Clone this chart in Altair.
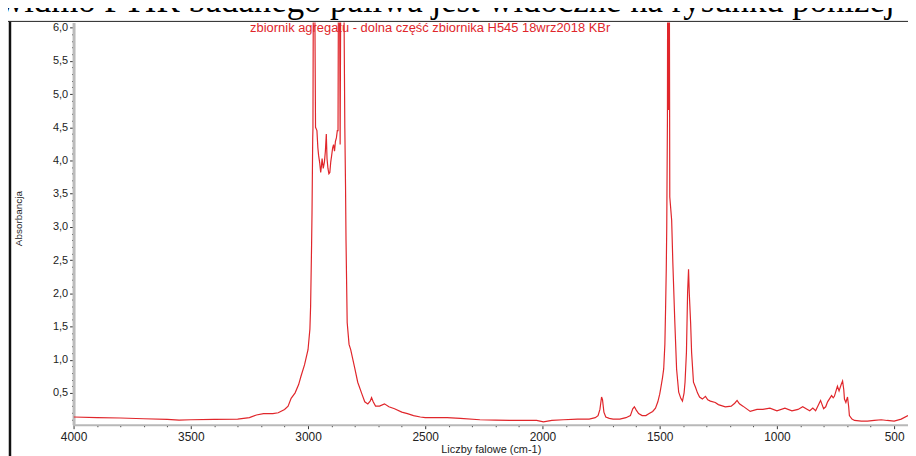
import altair as alt
import pandas as pd

doc_text = "widmo FTIR badanego paliwa jest widoczne na rysunku poniżej"
chart_title = "zbiornik agregatu - dolna część zbiornika H545 18wrz2018 KBr"
x_title = "Liczby falowe (cm-1)"
y_title = "Absorbancja"

wavenumber = [
    4000, 3900, 3800, 3700, 3600, 3550, 3500, 3400, 3300, 3250, 3220, 3190, 3150, 3127,
    3100, 3085, 3072, 3055, 3040, 3030, 3015, 3000, 2992, 2989, 2985, 2983, 2980, 2979,
    2977, 2972, 2968, 2962, 2958, 2955, 2950, 2946, 2943, 2940, 2935, 2930, 2926, 2922,
    2919, 2915, 2911, 2907, 2903, 2899, 2895, 2891, 2887, 2883, 2879, 2875, 2872, 2870,
    2866, 2863, 2860, 2848, 2843, 2840, 2838, 2833, 2825, 2818, 2800, 2788, 2770, 2758,
    2745, 2735, 2729, 2722, 2712, 2695, 2674, 2655, 2631, 2600, 2576, 2550, 2521, 2500,
    2407, 2350, 2267, 2200, 2140, 2060, 2025, 1996, 1960, 1911, 1850, 1801, 1775, 1763,
    1755, 1748, 1744, 1738, 1730, 1715, 1699, 1670, 1644, 1625, 1615, 1608, 1600, 1590,
    1575, 1559, 1545, 1530, 1518, 1508, 1500, 1496, 1488, 1483, 1478, 1475, 1472, 1470,
    1467, 1466, 1463, 1461, 1459, 1457, 1449, 1444, 1436, 1428, 1419, 1410, 1403, 1396,
    1392, 1386, 1381, 1377, 1374, 1368, 1364, 1356, 1347, 1339, 1330, 1318, 1305, 1295,
    1284, 1263, 1250, 1220, 1195, 1180, 1170, 1160, 1145, 1114, 1085, 1060, 1030, 1000,
    966, 936, 910, 890, 870, 860, 847, 835, 814, 801, 792, 784, 767, 760, 755, 742, 735,
    726, 720, 715, 712, 706, 699, 694, 691, 680, 669, 640, 614, 585, 555, 530, 500, 470, 441,
]
absorbance = [
    0.136, 0.126, 0.121, 0.11, 0.1, 0.09, 0.095, 0.1, 0.105, 0.126, 0.167, 0.188, 0.188, 0.2,
    0.25, 0.3, 0.417, 0.5, 0.625, 0.75, 0.92, 1.15, 1.46, 1.8, 2.68, 3.2, 4.34, 4.48,
    7.0, 7.0, 4.5, 4.45, 4.19, 4.08, 3.96, 3.82, 3.91, 4.03, 3.88, 3.98, 4.14, 4.4,
    4.03, 3.88, 3.8, 3.82, 3.98, 4.08, 4.19, 4.24, 4.14, 4.29, 4.34, 4.45, 4.45, 7.0,
    7.0, 4.24, 7.0, 7.0, 4.48, 3.6, 2.81, 1.56, 1.23, 1.15, 0.86, 0.66, 0.48, 0.365,
    0.334, 0.375, 0.427, 0.365, 0.3, 0.3, 0.334, 0.29, 0.26, 0.21, 0.188, 0.157, 0.136, 0.126,
    0.126, 0.116, 0.095, 0.09, 0.084, 0.084, 0.084, 0.064, 0.084, 0.095, 0.105, 0.105, 0.126, 0.157,
    0.25, 0.437, 0.396, 0.21, 0.136, 0.116, 0.105, 0.105, 0.126, 0.157, 0.26, 0.29, 0.24, 0.188,
    0.157, 0.157, 0.188, 0.22, 0.27, 0.365, 0.48, 0.56, 0.73, 0.86, 1.23, 1.76, 2.37, 2.99,
    4.66, 7.0, 4.76, 7.0, 7.0, 3.45, 3.1, 2.46, 1.61, 0.86, 0.51, 0.417, 0.375, 0.5,
    0.66, 1.11, 2.02, 2.36, 2.01, 1.54, 1.11, 0.66, 0.58, 0.5, 0.437, 0.406, 0.448, 0.396,
    0.375, 0.355, 0.323, 0.29, 0.3, 0.344, 0.386, 0.334, 0.3, 0.22, 0.25, 0.25, 0.27, 0.23,
    0.27, 0.23, 0.25, 0.29, 0.25, 0.23, 0.27, 0.23, 0.386, 0.26, 0.29, 0.365, 0.458, 0.427, 0.448, 0.6, 0.53,
    0.625, 0.677, 0.55, 0.406, 0.355, 0.437, 0.29, 0.157, 0.105, 0.084, 0.074, 0.074, 0.084, 0.095, 0.084, 0.074, 0.105, 0.157,
]

x_tick_values = list(range(500, 4001, 100))
y_tick_values = [round(0.1 * k, 1) for k in range(1, 61)]

df = pd.DataFrame({"wn": wavenumber, "A": absorbance, "idx": list(range(len(wavenumber)))})

RED = "#e0262b"
FONT = "Liberation Sans"

x_axis = alt.Axis(
    values=x_tick_values,
    labelExpr="datum.value % 500 == 0 ? format(datum.value, 'd') : ''",
    labelOverlap=False,
    labelFlush=False,
    labelFont=FONT,
    labelFontSize=12,
    labelColor="#222222",
    labelPadding=3,
    tickColor="#333333",
    tickSize={"condition": {"test": "datum.value % 500 == 0", "value": 4}, "value": 2},
    domainColor="#b8b8b8",
    domainWidth=2,
    grid=False,
    title=x_title,
    titleFont=FONT,
    titleFontSize=11,
    titleFontWeight="normal",
    titleColor="#222222",
    titleX=420,
    titleY=30,
    titleBaseline="bottom",
)

y_axis = alt.Axis(
    values=y_tick_values,
    labelExpr="round(datum.value * 10) % 5 == 0 ? replace(format(datum.value, '.1f'), '.', ',') : ''",
    labelOverlap=False,
    labelFlush=False,
    labelFont=FONT,
    labelFontSize=11,
    labelColor="#222222",
    labelPadding=2,
    tickColor="#333333",
    tickSize={"condition": {"test": "round(datum.value * 10) % 5 == 0", "value": 4}, "value": 2},
    domainColor="#bbbbbb",
    domainWidth=3,
    grid=False,
    title=y_title,
    titleFont=FONT,
    titleFontSize=10,
    titleFontWeight="normal",
    titleColor="#222222",
    titleX=-50,
    titleY=197,
    titleBaseline="bottom",
)

line = alt.Chart(df).mark_line(color=RED, strokeWidth=1.2, clip=True).encode(
    x=alt.X("wn:Q", scale=alt.Scale(domain=[441, 4000], reverse=True, nice=False, zero=False), axis=x_axis),
    y=alt.Y("A:Q", scale=alt.Scale(domain=[0.02, 6.08], nice=False, zero=False), axis=y_axis),
    order=alt.Order("idx:Q"),
)

title_text = alt.Chart(pd.DataFrame({"t": [chart_title]})).mark_text(
    color=RED, font=FONT, fontSize=13, align="center", baseline="middle"
).encode(x=alt.value(359), y=alt.value(6), text="t:N")

doc_line = alt.Chart(pd.DataFrame({"t": [doc_text]})).mark_text(
    color="#000000", font="Liberation Serif", fontSize=35, align="left", baseline="alphabetic"
).encode(x=alt.value(-75), y=alt.value(-10), text="t:N")

frame_left = alt.Chart(pd.DataFrame({"d": [0]})).mark_rule(color="#111111", strokeWidth=2.5).encode(
    x=alt.value(-64), y=alt.value(-1), y2=alt.value(440)
)
frame_top = alt.Chart(pd.DataFrame({"d": [0]})).mark_rule(color="#222222", strokeWidth=1).encode(
    x=alt.value(-69), x2=alt.value(845), y=alt.value(-1)
)

chart = alt.layer(line, title_text, doc_line, frame_left, frame_top).properties(
    width=840,
    height=405,
    padding={"left": 66, "top": 13, "right": 0, "bottom": 30},
    autosize=alt.AutoSizeParams(type="none"),
).configure_view(strokeWidth=0)

chart.save("out.html", embed_options={"renderer": "svg", "actions": False})
